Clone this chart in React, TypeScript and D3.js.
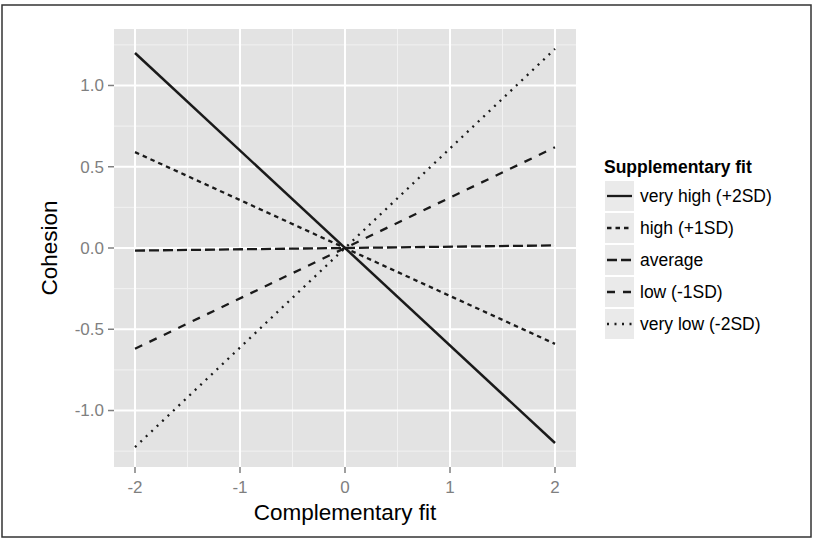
import { scaleLinear, extent } from "d3";

const xValues = [-2, 2];
const seriesNames = [
  "very high (+2SD)",
  "high (+1SD)",
  "average",
  "low (-1SD)",
  "very low (-2SD)",
];
const veryHigh = [1.2, -1.2];
const high = [0.59, -0.59];
const average = [-0.016, 0.016];
const low = [-0.62, 0.62];
const veryLow = [-1.225, 1.225];
const xTicks = [-2, -1, 0, 1, 2];
const yTicks = [-1.0, -0.5, 0.0, 0.5, 1.0];

const seriesValues = [veryHigh, high, average, low, veryLow];
const dashes = ["none", "4.5 4", "10 4", "8 8", "2 5.5"];

const svgWidth = 815;
const svgHeight = 541;
const margin = { top: 29, right: 239, bottom: 74, left: 114 };
const innerWidth = svgWidth - margin.left - margin.right;
const innerHeight = svgHeight - margin.top - margin.bottom;

const fontFamily = "'Liberation Sans', Arial, Helvetica, sans-serif";
const formatY = (v) => v.toFixed(1);

// ggplot-style 5% expansion
const expand = (ext) => {
  const pad = (ext[1] - ext[0]) * 0.05;
  return [ext[0] - pad, ext[1] + pad];
};

const App = () => {
  const allY = seriesValues.flat();
  const xScale = scaleLinear()
    .domain(expand(extent(xValues)))
    .range([0, innerWidth]);
  const yScale = scaleLinear()
    .domain(expand(extent(allY)))
    .range([innerHeight, 0]);

  const xMinor = xTicks.slice(0, -1).map((t, i) => (t + xTicks[i + 1]) / 2);
  const yMinor = [
    yTicks[0] - 0.25,
    ...yTicks.slice(0, -1).map((t, i) => (t + yTicks[i + 1]) / 2),
    yTicks[yTicks.length - 1] + 0.25,
  ].filter((v) => v >= yScale.domain()[0] && v <= yScale.domain()[1]);

  const legendX = 604;
  const legendY = 180;
  const rowH = 32;

  return (
    <svg
      width={svgWidth}
      height={svgHeight}
      style={{ position: "absolute", left: 0, top: 0, background: "white" }}
      fontFamily={fontFamily}
    >
      <rect
        x={2}
        y={5}
        width={809}
        height={532}
        fill="white"
        stroke="#333"
        strokeWidth={1.5}
      />
      <g transform={`translate(${margin.left},${margin.top})`}>
        <rect width={innerWidth} height={innerHeight} fill="#e3e3e3" />
        {xMinor.map((t) => (
          <line
            key={"xm" + t}
            x1={xScale(t)}
            x2={xScale(t)}
            y1={0}
            y2={innerHeight}
            stroke="#f2f2f2"
            strokeWidth={1}
          />
        ))}
        {yMinor.map((t) => (
          <line
            key={"ym" + t}
            y1={yScale(t)}
            y2={yScale(t)}
            x1={0}
            x2={innerWidth}
            stroke="#f2f2f2"
            strokeWidth={1}
          />
        ))}
        {xTicks.map((t) => (
          <g key={"x" + t} transform={`translate(${xScale(t)},0)`}>
            <line y1={0} y2={innerHeight} stroke="white" strokeWidth={2} />
            <line
              y1={innerHeight}
              y2={innerHeight + 6}
              stroke="#7f7f7f"
              strokeWidth={1.5}
            />
            <text
              y={innerHeight + 26}
              textAnchor="middle"
              fontSize={17}
              fill="#7f7f7f"
            >
              {t}
            </text>
          </g>
        ))}
        {yTicks.map((t) => (
          <g key={"y" + t} transform={`translate(0,${yScale(t)})`}>
            <line x1={0} x2={innerWidth} stroke="white" strokeWidth={2} />
            <line x1={-6} x2={0} stroke="#7f7f7f" strokeWidth={1.5} />
            <text
              x={-10}
              dy="0.35em"
              textAnchor="end"
              fontSize={17}
              fill="#7f7f7f"
            >
              {formatY(t)}
            </text>
          </g>
        ))}
        {seriesValues.map((vals, i) => (
          <line
            key={seriesNames[i]}
            x1={xScale(xValues[0])}
            y1={yScale(vals[0])}
            x2={xScale(xValues[1])}
            y2={yScale(vals[1])}
            stroke="#1a1a1a"
            strokeWidth={i === 0 ? 2.5 : 2.3}
            strokeDasharray={dashes[i]}
          />
        ))}
        <text
          x={innerWidth / 2}
          y={innerHeight + 53}
          textAnchor="middle"
          fontSize={22.5}
          fill="black"
        >
          Complementary fit
        </text>
        <text
          transform={`translate(-57,${innerHeight / 2}) rotate(-90)`}
          textAnchor="middle"
          fontSize={22.5}
          fill="black"
        >
          Cohesion
        </text>
      </g>
      <g transform={`translate(${legendX},${legendY})`}>
        <text x={0} y={-7} fontSize={17.5} fontWeight="bold" fill="black">
          Supplementary fit
        </text>
        {seriesNames.map((name, i) => (
          <g key={name} transform={`translate(0,${i * rowH})`}>
            <rect x={1} y={1} width={29} height={rowH - 2} fill="#eaeaea" />
            <line
              x1={3}
              x2={28}
              y1={rowH / 2}
              y2={rowH / 2}
              stroke="#1a1a1a"
              strokeWidth={2.3}
              strokeDasharray={dashes[i]}
            />
            <text x={36} y={rowH / 2} dy="0.35em" fontSize={17.5} fill="black">
              {name}
            </text>
          </g>
        ))}
      </g>
    </svg>
  );
};

export default App;
